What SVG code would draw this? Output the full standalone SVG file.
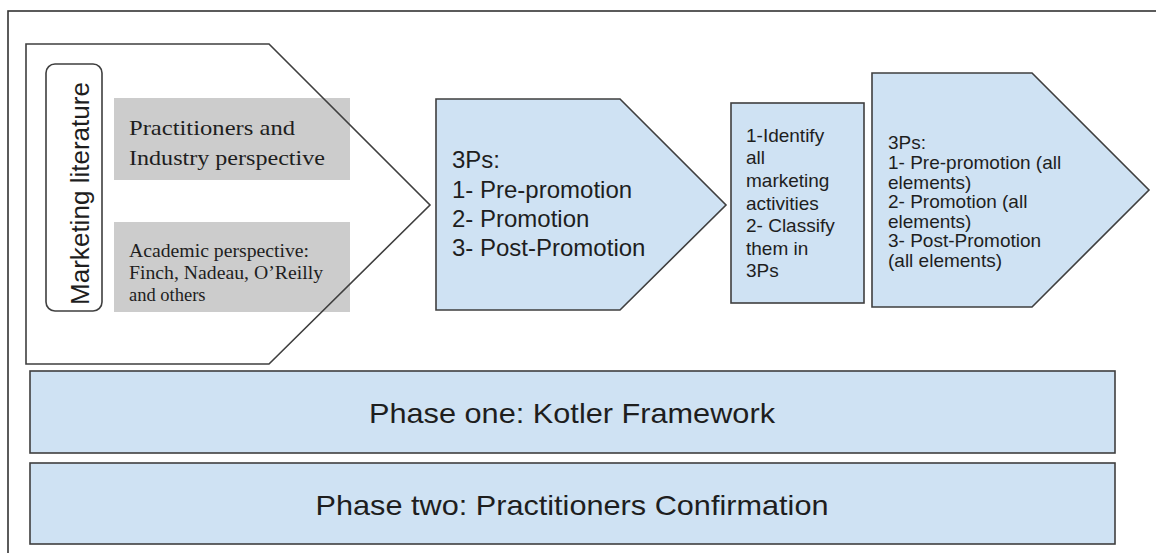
<svg xmlns="http://www.w3.org/2000/svg" width="1156" height="553" viewBox="0 0 1156 553">
  <style>
    .frame { fill: none; stroke: #333333; stroke-width: 1.6; }
    .shape { stroke: #3f3f3f; stroke-width: 1.6; stroke-linejoin: miter; }
    .blue { fill: #cfe2f3; }
    .white { fill: #ffffff; }
    .grey { fill: #cccccc; }
    .sans { font-family: "Liberation Sans", Arial, sans-serif; fill: #1e1e1e; }
    .serif { font-family: "Liberation Serif", "Times New Roman", serif; fill: #1e1e1e; }
  </style>

  <rect width="1156" height="553" fill="#ffffff"/>
  <!-- outer frame (runs off the right and bottom edges) -->
  <rect class="frame" x="8" y="11" width="1170" height="570"/>

  <!-- sources chevron: marketing literature -->
  <g id="sources">
    <polygon class="white" points="26,44 269,44 430,205 269,364 26,364"/>
    <rect class="grey" x="114" y="98" width="236" height="82"/>
    <rect class="grey" x="114" y="222" width="236" height="90"/>
    <polygon class="shape" fill="none" points="26,44 269,44 430,205 269,364 26,364"/>
    <rect class="shape white" x="46" y="64" width="56" height="247" rx="9"/>
    <text class="sans" font-size="25" text-anchor="middle" transform="translate(89,193.5) rotate(-90)" textLength="223" lengthAdjust="spacingAndGlyphs">Marketing literature</text>
    <text class="serif" font-size="22" x="129" y="135" textLength="166" lengthAdjust="spacingAndGlyphs">Practitioners and</text>
    <text class="serif" font-size="22" x="129" y="165" textLength="196" lengthAdjust="spacingAndGlyphs">Industry perspective</text>
    <text class="serif" font-size="18.5" x="129" y="257" textLength="180" lengthAdjust="spacingAndGlyphs">Academic perspective:</text>
    <text class="serif" font-size="18.5" x="129" y="279" textLength="194" lengthAdjust="spacingAndGlyphs">Finch, Nadeau, O’Reilly</text>
    <text class="serif" font-size="18.5" x="129" y="301">and others</text>
  </g>

  <!-- the 3Ps chevron -->
  <g id="three-ps">
    <polygon class="shape blue" points="436,99 620,99 726,205 620,310 436,310"/>
    <g class="sans" font-size="24">
      <text x="452" y="168">3Ps:</text>
      <text x="452" y="197.5">1- Pre-promotion</text>
      <text x="452" y="227">2- Promotion</text>
      <text x="452" y="256">3- Post-Promotion</text>
    </g>
  </g>

  <!-- activity classification box -->
  <g id="classify">
    <rect class="shape blue" x="731" y="103" width="133" height="200"/>
    <g class="sans" font-size="19">
      <text x="746" y="141.7">1-Identify</text>
      <text x="746" y="164.3">all</text>
      <text x="746" y="186.9">marketing</text>
      <text x="746" y="209.5">activities</text>
      <text x="746" y="232.1">2- Classify</text>
      <text x="746" y="254.7">them in</text>
      <text x="746" y="277.3">3Ps</text>
    </g>
  </g>

  <!-- 3Ps with all elements chevron -->
  <g id="three-ps-elements">
    <polygon class="shape blue" points="872,73 1032,73 1149,190 1032,307 872,307"/>
    <g class="sans" font-size="19">
      <text x="888" y="149.3">3Ps:</text>
      <text x="888" y="169">1- Pre-promotion (all</text>
      <text x="888" y="188.6">elements)</text>
      <text x="888" y="208.2">2- Promotion (all</text>
      <text x="888" y="227.8">elements)</text>
      <text x="888" y="247.4">3- Post-Promotion</text>
      <text x="888" y="267">(all elements)</text>
    </g>
  </g>

  <!-- phase bars -->
  <g id="phase-one">
    <rect class="shape blue" x="30" y="371" width="1085" height="82"/>
    <text class="sans" font-size="28" x="572" y="423" text-anchor="middle" textLength="406" lengthAdjust="spacingAndGlyphs">Phase one: Kotler Framework</text>
  </g>
  <g id="phase-two">
    <rect class="shape blue" x="30" y="463" width="1085" height="81"/>
    <text class="sans" font-size="28" x="572" y="515" text-anchor="middle" textLength="513" lengthAdjust="spacingAndGlyphs">Phase two: Practitioners Confirmation</text>
  </g>
</svg>
